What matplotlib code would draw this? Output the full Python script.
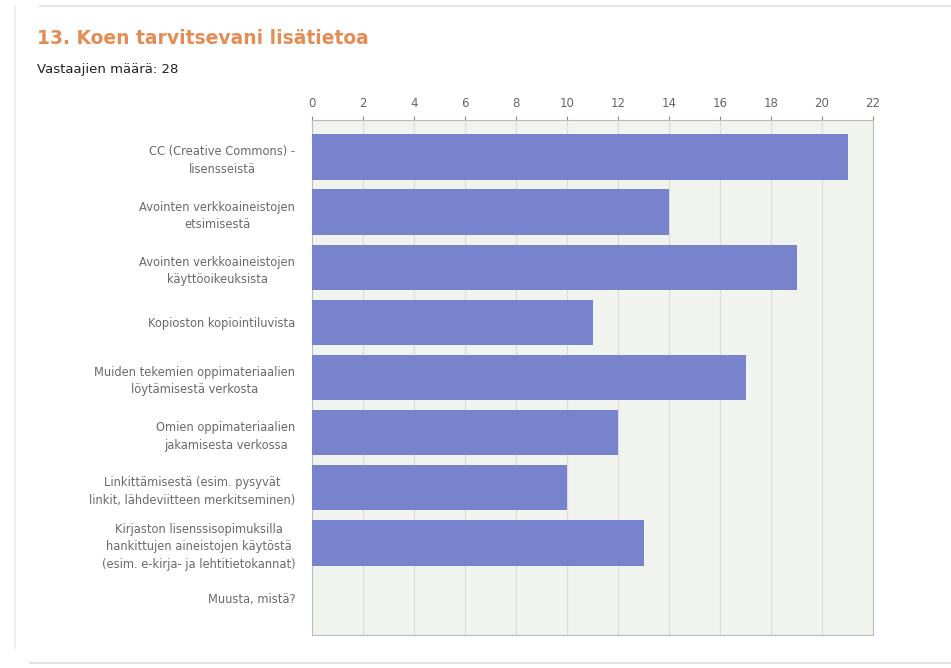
import numpy as np
import matplotlib.pyplot as plt
from matplotlib.lines import Line2D

plt.rcParams['font.family'] = ['DejaVu Sans']

# data
categories = [
    'CC (Creative Commons) -\nlisensseistä',
    'Avointen verkkoaineistojen\netsimisestä',
    'Avointen verkkoaineistojen\nkäyttöoikeuksista',
    'Kopioston kopiointiluvista',
    'Muiden tekemien oppimateriaalien\nlöytämisestä verkosta',
    'Omien oppimateriaalien\njakamisesta verkossa',
    'Linkittämisestä (esim. pysyvät\nlinkit, lähdeviitteen merkitseminen)',
    'Kirjaston lisenssisopimuksilla\nhankittujen aineistojen käytöstä\n(esim. e-kirja- ja lehtitietokannat)',
    'Muusta, mistä?',
]
counts = [21, 14, 19, 11, 17, 12, 10, 13, 0]
xticks = list(range(0, 23, 2))

fig = plt.figure(figsize=(9.51, 6.68), dpi=100)

# page frame lines
fig.add_artist(Line2D([40/951, 1], [1 - 6/668, 1 - 6/668], color='#e4e4e4', lw=1.5))
fig.add_artist(Line2D([15/951, 15/951], [0.03, 1 - 6/668], color='#eeeeee', lw=1.5))
fig.add_artist(Line2D([30/951, 1], [1 - 663/668, 1 - 663/668], color='#e4e4e4', lw=1.5))

fig.text(37/951, 1 - 38/668, '13. Koen tarvitsevani lisätietoa', color='#e38d55',
         fontsize=13.5, fontweight='semibold', va='center', ha='left')
fig.text(37/951, 1 - 69/668, 'Vastaajien määrä: 28', color='#222222',
         fontsize=9.5, va='center', ha='left')

ax = fig.add_axes([312/951, 1 - 635/668, (873 - 312)/951, (635 - 120)/668])
ax.set_facecolor('#f1f3ee')

y = np.arange(len(categories))
ax.barh(y, counts, height=0.82, color='#7783cc', linewidth=0, zorder=3)

ax.set_xlim(0, 22)
ax.set_ylim(len(categories) - 0.33, -0.67)
ax.set_xticks(xticks)
ax.xaxis.tick_top()
ax.tick_params(axis='x', colors='#888888', labelcolor='#666666', labelsize=8.5, length=3, pad=4)
ax.set_yticks(y)
ax.set_yticklabels(categories, fontsize=8.3, color='#6a6a6a', multialignment='center',
                   linespacing=1.45)
ax.tick_params(axis='y', length=0, pad=12)
ax.grid(axis='x', color='#dcdcd6', lw=0.8, zorder=0)
for s in ax.spines.values():
    s.set_color('#bbbbbb')

fig.savefig('out.png', dpi=100)
